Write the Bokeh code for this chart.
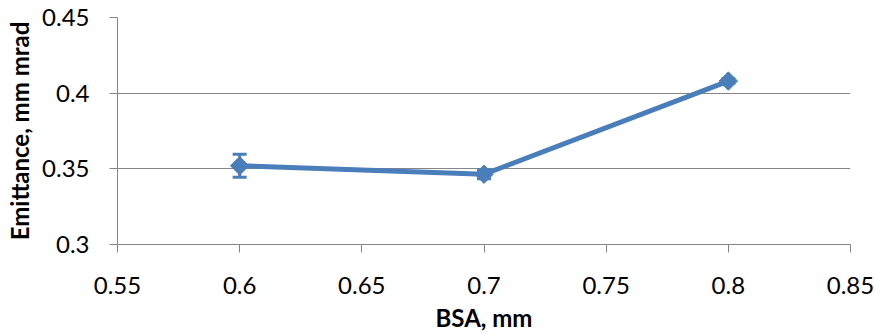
import math
from bokeh.plotting import figure
from bokeh.models import ColumnDataSource, Whisker, TeeHead, FixedTicker, Range1d
from bokeh.embed import file_html
from bokeh.resources import INLINE

# ---- data ----
bsa = [0.6, 0.7, 0.8]
emittance = [0.352, 0.3464, 0.408]
err = [0.0076, 0.003, 0.0015]
x_ticks = [0.55, 0.6, 0.65, 0.7, 0.75, 0.8, 0.85]
x_tick_labels = ["0.55", "0.6", "0.65", "0.7", "0.75", "0.8", "0.85"]
y_ticks = [0.3, 0.35, 0.4, 0.45]
y_tick_labels = ["0.3", "0.35", "0.4", "0.45"]
x_title = "BSA, mm"
y_title = "Emittance, mm mrad"

color = "#4a7ebb"
grid_color = "#868686"
font = "Lato"

src = ColumnDataSource(dict(
    x=bsa, y=emittance,
    upper=[v + e for v, e in zip(emittance, err)],
    lower=[v - e for v, e in zip(emittance, err)],
))

p = figure(width=875, height=334, output_backend="svg", toolbar_location=None,
           x_range=Range1d(0.55, 0.85), y_range=Range1d(0.3, 0.45),
           min_border_left=117, min_border_top=17, min_border_right=25, min_border_bottom=90)
p.outline_line_color = None
p.background_fill_color = "white"
p.border_fill_color = "white"

p.xgrid.grid_line_color = None
p.ygrid.grid_line_color = grid_color
p.ygrid.grid_line_width = 1

for ax in (p.xaxis[0], p.yaxis[0]):
    ax.axis_line_color = grid_color
    ax.major_tick_line_color = grid_color
    ax.minor_tick_line_color = None
    ax.major_tick_in = 0
    ax.major_tick_out = 8
    ax.major_label_text_font = font
    ax.major_label_text_font_size = "24px"
    ax.major_label_text_color = "black"
    ax.axis_label_text_font = font
    ax.axis_label_text_font_style = "bold"
    ax.axis_label_text_font_size = "24px"
    ax.axis_label_text_color = "black"

p.xaxis.ticker = FixedTicker(ticks=x_ticks)
p.xaxis.major_label_overrides = dict(zip(x_ticks, x_tick_labels))
p.yaxis.ticker = FixedTicker(ticks=y_ticks)
p.yaxis.major_label_overrides = dict(zip(y_ticks, y_tick_labels))
p.xaxis.axis_label = x_title
p.yaxis.axis_label = y_title
p.xaxis.major_label_standoff = 24
p.xaxis.axis_label_standoff = 6
p.yaxis.major_label_standoff = 20
p.yaxis.axis_label_standoff = 5

w = Whisker(source=src, base="x", upper="upper", lower="lower",
            line_color=color, line_width=3,
            upper_head=TeeHead(size=14, line_color=color, line_width=3),
            lower_head=TeeHead(size=14, line_color=color, line_width=3))
p.add_layout(w)

p.line("x", "y", source=src, line_color=color, line_width=5)
p.scatter("x", "y", source=src, marker="square", size=13, angle=math.pi / 4,
          fill_color=color, line_color=color, line_width=1)

open("out.html", "w").write(file_html(p, INLINE))
